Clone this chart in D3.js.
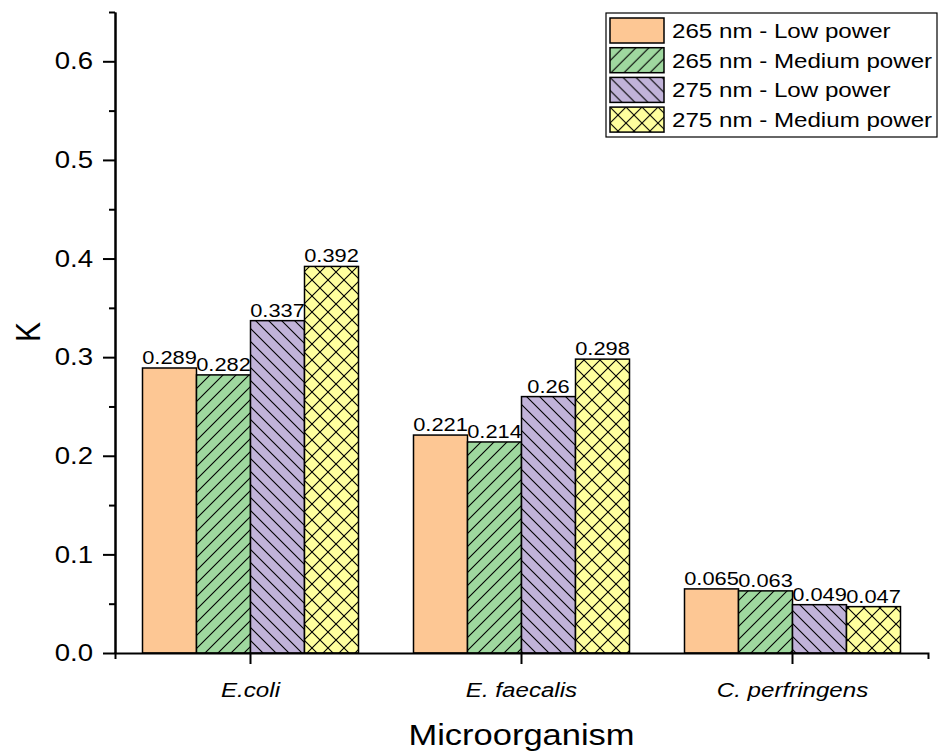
<!DOCTYPE html>
<html>
<head>
<meta charset="UTF-8">
<title>K by microorganism</title>
<style>
  body { margin: 0; background: #fff; }
  svg text { font-family: "Liberation Sans", Arial, sans-serif; fill: #000; }
</style>
</head>
<body>
<div id="chart"></div>
<script src="https://cdnjs.cloudflare.com/ajax/libs/d3/7.8.5/d3.min.js"></script>
<script>
// data
var organisms = ['E.coli', 'E. faecalis', 'C. perfringens'];
var seriesNames = ['265 nm - Low power', '265 nm - Medium power', '275 nm - Low power', '275 nm - Medium power'];
var low265 = [0.289, 0.221, 0.065];
var med265 = [0.282, 0.214, 0.063];
var low275 = [0.337, 0.260, 0.049];
var med275 = [0.392, 0.298, 0.047];
var labels265low = ['0.289', '0.221', '0.065'];
var labels265med = ['0.282', '0.214', '0.063'];
var labels275low = ['0.337', '0.26', '0.049'];
var labels275med = ['0.392', '0.298', '0.047'];
var yTicks = [0, 0.1, 0.2, 0.3, 0.4, 0.5, 0.6];
var yMinorTicks = [0.05, 0.15, 0.25, 0.35, 0.45, 0.55, 0.65];

var series = [
  { name: seriesNames[0], values: low265, labels: labels265low, fill: '#fdc794', hatch: null },
  { name: seriesNames[1], values: med265, labels: labels265med, fill: '#9fd89f', hatch: 'fwd' },
  { name: seriesNames[2], values: low275, labels: labels275low, fill: '#c1b3d9', hatch: 'back' },
  { name: seriesNames[3], values: med275, labels: labels275med, fill: '#ffff9e', hatch: 'cross' }
];

var W = 940, H = 754;
var SX = 1.15; // the original text is a little wider than plain Arial

var svg = d3.select('#chart').append('svg')
  .attr('width', W).attr('height', H);

// hatch patterns
var defs = svg.append('defs');
function makePattern(id, fill, kind) {
  var s = kind === 'cross' ? 16 : 13;
  var p = defs.append('pattern')
    .attr('id', id)
    .attr('patternUnits', 'userSpaceOnUse')
    .attr('width', s).attr('height', s);
  p.append('rect').attr('width', s).attr('height', s).attr('fill', fill);
  var paths = [];
  if (kind === 'fwd' || kind === 'cross') paths.push('M0,' + s + 'L' + s + ',0M-2,2L2,-2M' + (s - 2) + ',' + (s + 2) + 'L' + (s + 2) + ',' + (s - 2));
  if (kind === 'back' || kind === 'cross') paths.push('M0,0L' + s + ',' + s + 'M-2,' + (s - 2) + 'L2,' + (s + 2) + 'M' + (s - 2) + ',-2L' + (s + 2) + ',2');
  paths.forEach(function (d) {
    p.append('path').attr('d', d).attr('stroke', '#000').attr('stroke-width', 1.1);
  });
}
series.forEach(function (s, i) {
  if (s.hatch) makePattern('hatch' + i, s.fill, s.hatch);
  s.paint = s.hatch ? 'url(#hatch' + i + ')' : s.fill;
});

function stretch(sel, x, y) {
  sel.attr('transform', 'translate(' + x + ',' + y + ') scale(' + SX + ',1)');
}

var plot = { left: 115, right: 928, top: 12, bottom: 653 };

var x = d3.scaleBand().domain(organisms).range([plot.left, plot.right]).padding(0);
var groupW = 216;
var xs = d3.scaleBand().domain(d3.range(series.length)).range([-groupW / 2, groupW / 2]).padding(0);
var y = d3.scaleLinear().domain([0, 0.65]).range([plot.bottom, plot.top]);

// bars
series.forEach(function (s, si) {
  var g = svg.append('g');
  g.selectAll('rect')
    .data(s.values)
    .enter()
    .append('rect')
    .attr('x', function (d, i) { return x(organisms[i]) + x.bandwidth() / 2 + xs(si); })
    .attr('y', function (d) { return y(d); })
    .attr('width', xs.bandwidth())
    .attr('height', function (d) { return y(0) - y(d); })
    .attr('fill', s.paint)
    .attr('stroke', '#000')
    .attr('stroke-width', 1.5);

  g.selectAll('text')
    .data(s.values)
    .enter()
    .append('text')
    .attr('text-anchor', 'middle')
    .style('font-size', '19px')
    .text(function (d, i) { return s.labels[i]; })
    .each(function (d, i) {
      stretch(d3.select(this), x(organisms[i]) + x.bandwidth() / 2 + xs(si) + xs.bandwidth() / 2, y(d) - 4);
    });
});

// y axis
var yMinor = svg.append('g')
  .attr('transform', 'translate(' + plot.left + ',0)')
  .call(d3.axisLeft(y).tickValues(yMinorTicks).tickSize(6).tickSizeOuter(0).tickFormat(''));
var yAxis = svg.append('g')
  .attr('transform', 'translate(' + plot.left + ',0)')
  .call(d3.axisLeft(y).tickValues(yTicks).tickSize(12).tickSizeOuter(0).tickPadding(10).tickFormat(d3.format('.1f')));
yAxis.selectAll('text').each(function () {
  var t = d3.select(this);
  var tx = +t.attr('x');
  t.attr('x', 0);
  t.attr('transform', 'translate(' + tx + ',0) scale(' + SX + ',1)');
});
yAxis.selectAll('text').style('font-size', '24px').attr('font-family', null);

// x axis
var xAxis = svg.append('g')
  .attr('transform', 'translate(0,' + plot.bottom + ')')
  .call(d3.axisBottom(x).tickSize(11).tickSizeOuter(6).tickPadding(18));
xAxis.selectAll('text')
  .style('font-size', '21px')
  .style('font-style', 'italic')
  .attr('font-family', null)
  .each(function () {
    var t = d3.select(this);
    var ty = +t.attr('y');
    t.attr('y', 0);
    t.attr('transform', 'translate(0,' + ty + ') scale(' + SX + ',1)');
  });

[yMinor, yAxis, xAxis].forEach(function (a) {
  a.selectAll('path, line').attr('stroke', '#000').attr('stroke-width', 2);
});

// axis titles
svg.append('text')
  .attr('text-anchor', 'middle')
  .style('font-size', '30px')
  .text('Microorganism')
  .call(stretch, (plot.left + plot.right) / 2, 745);

svg.append('text')
  .attr('text-anchor', 'middle')
  .attr('transform', 'translate(40,332) rotate(-90) scale(1,' + SX + ')')
  .style('font-size', '30px')
  .text('K');

// legend
var legend = svg.append('g').attr('transform', 'translate(606,13)');
legend.append('rect')
  .attr('width', 331).attr('height', 124)
  .attr('fill', '#fff')
  .attr('stroke', '#000')
  .attr('stroke-width', 1.2);
var items = legend.selectAll('g.item')
  .data(series)
  .enter()
  .append('g')
  .attr('class', 'item')
  .attr('transform', function (d, i) { return 'translate(4,' + (5 + i * 29.7) + ')'; });
items.append('rect')
  .attr('width', 54).attr('height', 25)
  .attr('fill', function (d) { return d.paint; })
  .attr('stroke', '#000')
  .attr('stroke-width', 1.5);
items.append('text')
  .style('font-size', '21px')
  .text(function (d) { return d.name; })
  .each(function () { stretch(d3.select(this), 62, 20); });
</script>
</body>
</html>
